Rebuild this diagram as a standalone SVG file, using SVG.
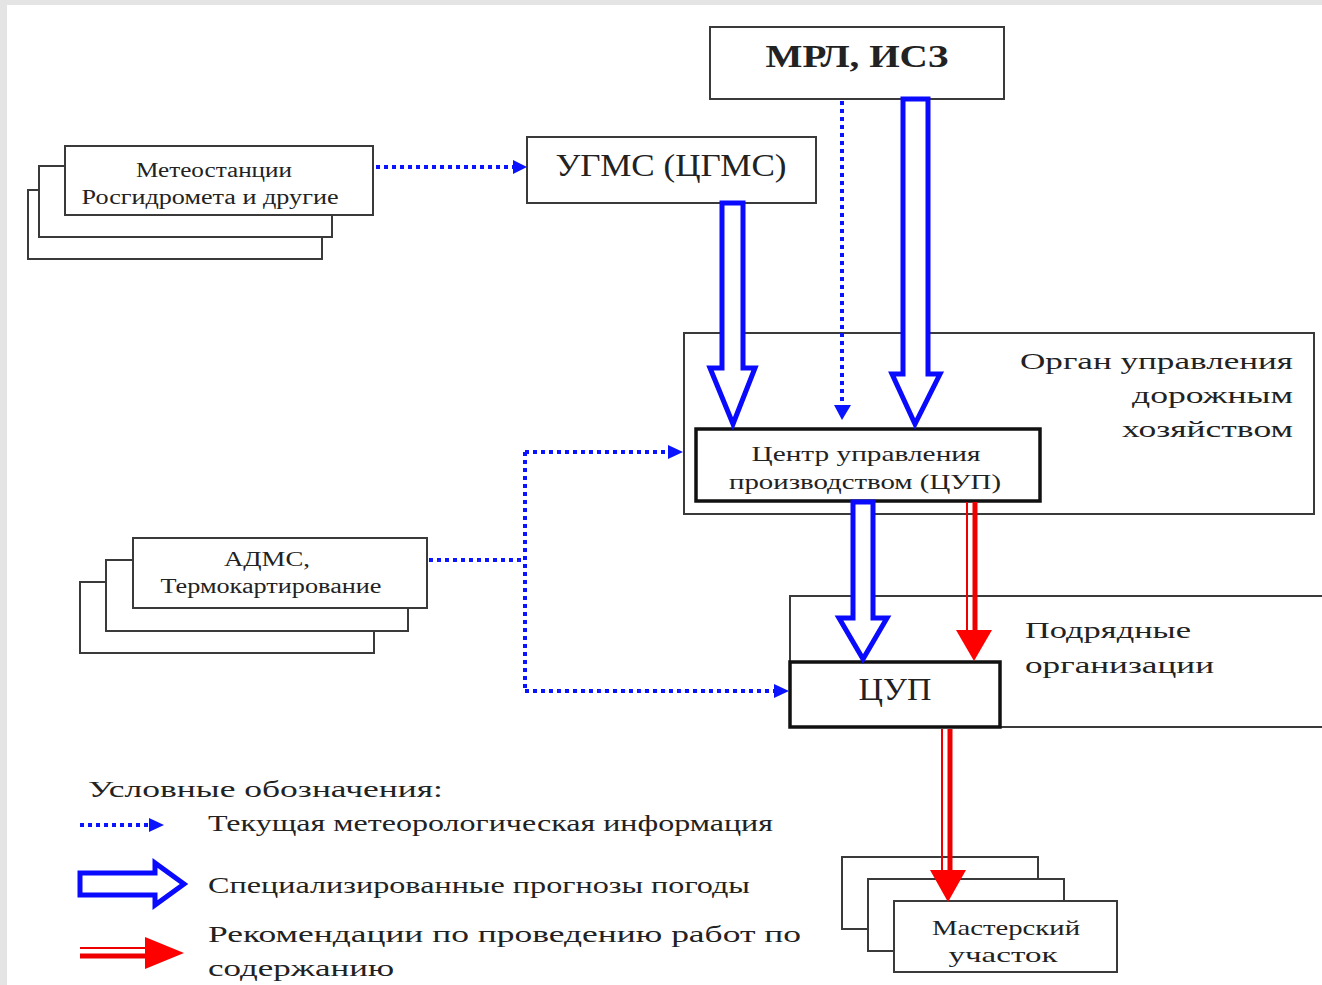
<svg xmlns="http://www.w3.org/2000/svg" width="1322" height="985" viewBox="0 0 1322 985">
<style>
.box{fill:#fff;stroke:#3a3a3a;stroke-width:2}
.thick{fill:#fff;stroke:#111;stroke-width:3.5}
.t{font-family:"Liberation Serif","DejaVu Serif",serif;fill:#222}
.dot{fill:none;stroke:#0a14ff;stroke-width:4;stroke-dasharray:4 4}
.dhead{fill:#0a14ff}
.hollow{fill:#fff;stroke:#0a0aff;stroke-width:5;stroke-linejoin:miter}
.rthin{stroke:#ee0000;stroke-width:2;fill:none}
.rthick{stroke:#ee0000;stroke-width:5;fill:none}
.rhead{fill:#ff0000}
</style>
<rect x="0" y="0" width="1322" height="985" fill="#e4e4e4"/>
<rect x="7" y="5" width="1315" height="980" fill="#fff"/>

<g id="node-org">
<rect class="box" x="684" y="333" width="630" height="181"/>
<text class="t" font-size="24" text-anchor="end" x="1293" y="369" textLength="273" lengthAdjust="spacingAndGlyphs">Орган управления</text>
<text class="t" font-size="24" text-anchor="end" x="1293" y="403" textLength="161" lengthAdjust="spacingAndGlyphs">дорожным</text>
<text class="t" font-size="24" text-anchor="end" x="1293" y="437" textLength="171" lengthAdjust="spacingAndGlyphs">хозяйством</text>
</g>

<g id="node-contractors">
<path d="M1322 596 H790 V727 H1322" fill="#fff" stroke="#3a3a3a" stroke-width="2"/>
<text class="t" font-size="24" x="1025" y="638" textLength="166" lengthAdjust="spacingAndGlyphs">Подрядные</text>
<text class="t" font-size="24" x="1025" y="673" textLength="189" lengthAdjust="spacingAndGlyphs">организации</text>
</g>

<g id="node-meteo">
<rect class="box" x="28" y="190" width="294" height="69"/>
<rect class="box" x="39" y="166" width="293" height="71"/>
<rect class="box" x="65" y="146" width="308" height="69"/>
<text class="t" font-size="20" text-anchor="middle" x="214" y="177" textLength="156" lengthAdjust="spacingAndGlyphs">Метеостанции</text>
<text class="t" font-size="20" text-anchor="middle" x="210" y="204" textLength="257" lengthAdjust="spacingAndGlyphs">Росгидромета и другие</text>
</g>

<g id="node-ugms">
<rect class="box" x="527" y="137" width="289" height="66"/>
<text class="t" font-size="31" text-anchor="middle" x="671" y="176" textLength="231" lengthAdjust="spacingAndGlyphs">УГМС (ЦГМС)</text>
</g>

<g id="node-mrl">
<rect class="box" x="710" y="27" width="294" height="72"/>
<text class="t" font-size="31" font-weight="bold" text-anchor="middle" x="857" y="67" textLength="183" lengthAdjust="spacingAndGlyphs">МРЛ, ИСЗ</text>
</g>

<g id="node-cup1">
<rect class="thick" x="696" y="429" width="344" height="72"/>
<text class="t" font-size="21" text-anchor="middle" x="866" y="461" textLength="229" lengthAdjust="spacingAndGlyphs">Центр управления</text>
<text class="t" font-size="21" text-anchor="middle" x="865" y="489" textLength="272" lengthAdjust="spacingAndGlyphs">производством (ЦУП)</text>
</g>

<g id="node-adms">
<rect class="box" x="80" y="582" width="294" height="71"/>
<rect class="box" x="106" y="560" width="302" height="71"/>
<rect class="box" x="133" y="538" width="294" height="70"/>
<text class="t" font-size="20" text-anchor="middle" x="267" y="566" textLength="86" lengthAdjust="spacingAndGlyphs">АДМС,</text>
<text class="t" font-size="20" text-anchor="middle" x="271" y="593" textLength="221" lengthAdjust="spacingAndGlyphs">Термокартирование</text>
</g>

<g id="node-cup2">
<rect class="thick" x="790" y="662" width="210" height="65"/>
<text class="t" font-size="31" text-anchor="middle" x="895" y="700" textLength="73" lengthAdjust="spacingAndGlyphs">ЦУП</text>
</g>

<g id="node-master">
<rect class="box" x="842" y="857" width="196" height="72"/>
<rect class="box" x="868" y="879" width="196" height="72"/>
<rect class="box" x="894" y="901" width="223" height="71"/>
<text class="t" font-size="21" text-anchor="middle" x="1006" y="935" textLength="148" lengthAdjust="spacingAndGlyphs">Мастерский</text>
<text class="t" font-size="21" text-anchor="middle" x="1003" y="962" textLength="109" lengthAdjust="spacingAndGlyphs">участок</text>
</g>

<g id="connectors">
<!-- dotted: meteo -> ugms -->
<path class="dot" d="M376 167 H514"/>
<polygon class="dhead" points="513,160 527,167 513,174"/>
<!-- dotted: mrl -> cup1 -->
<path class="dot" d="M842 101 V405"/>
<polygon class="dhead" points="834,405 851,405 842,420"/>
<!-- dotted: adms -> cup1 / cup2 -->
<path class="dot" d="M429 560 H525 M525 452 V692 M525 452 H668 M525 691 H774"/>
<polygon class="dhead" points="668,445 683,452 668,459"/>
<polygon class="dhead" points="774,684 789,691 774,698"/>
<!-- hollow: ugms -> cup1 -->
<polygon class="hollow" points="722,203 743,203 743,368 755,368 733,424 710,368 722,368"/>
<!-- hollow: mrl -> cup1 -->
<polygon class="hollow" points="903,99 928,99 928,374 940,374 915,424 892,374 903,374"/>
<!-- hollow: cup1 -> cup2 -->
<polygon class="hollow" points="853,502 873,502 873,618 887,618 863,659 839,618 853,618"/>
<!-- red: cup1 -> cup2 -->
<path class="rthin" d="M967 502 V632"/>
<path class="rthick" d="M975 502 V632"/>
<polygon class="rhead" points="956,630 992,630 974,661"/>
<!-- red: cup2 -> master -->
<path class="rthin" d="M942 729 V872"/>
<path class="rthick" d="M950 729 V872"/>
<polygon class="rhead" points="930,870 966,870 948,902"/>
</g>

<g id="legend">
<text class="t" font-size="24" x="88" y="797" textLength="355" lengthAdjust="spacingAndGlyphs">Условные обозначения:</text>
<path class="dot" d="M80 825 H150"/>
<polygon class="dhead" points="149,818 164,825 149,832"/>
<text class="t" font-size="23" x="208" y="831" textLength="565" lengthAdjust="spacingAndGlyphs">Текущая метеорологическая информация</text>
<polygon class="hollow" points="80,873 155,873 155,863 184,884 155,905 155,895 80,895"/>
<text class="t" font-size="23" x="208" y="893" textLength="542" lengthAdjust="spacingAndGlyphs">Специализированные прогнозы погоды</text>
<path class="rthin" d="M80 948 H148"/>
<path class="rthick" d="M80 956 H148"/>
<polygon class="rhead" points="145,937 184,953 145,969"/>
<text class="t" font-size="23" x="208" y="942" textLength="593" lengthAdjust="spacingAndGlyphs">Рекомендации по проведению работ по</text>
<text class="t" font-size="23" x="208" y="976" textLength="186" lengthAdjust="spacingAndGlyphs">содержанию</text>
</g>
</svg>
